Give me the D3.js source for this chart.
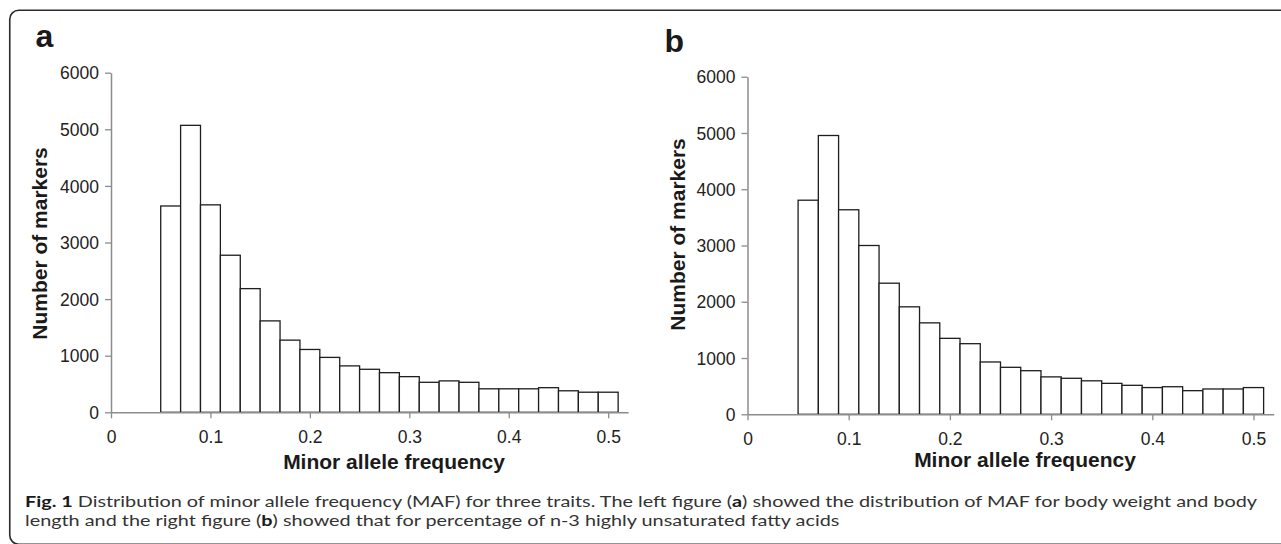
<!DOCTYPE html>
<html>
<head>
<meta charset="utf-8">
<script src="https://cdnjs.cloudflare.com/ajax/libs/d3/7.8.5/d3.min.js"></script>
<style>
body { margin: 0; background: #fff; }
</style>
</head>
<body>
<script>
// classes de MAF (début de chaque classe, largeur 0.02)
var binStart = [0.05, 0.07, 0.09, 0.11, 0.13, 0.15, 0.17, 0.19, 0.21, 0.23, 0.25, 0.27,
                0.29, 0.31, 0.33, 0.35, 0.37, 0.39, 0.41, 0.43, 0.45, 0.47, 0.49];
var binWidth = 0.02;

// nombre de marqueurs par classe
var countsA = [3645, 5070, 3665, 2775, 2185, 1615, 1275, 1110, 970, 820, 760, 700,
               630, 530, 555, 530, 415, 415, 415, 435, 380, 355, 355];
var countsB = [3805, 4955, 3635, 3000, 2330, 1910, 1625, 1350, 1255, 930, 835, 775,
               665, 640, 595, 550, 515, 475, 490, 420, 450, 450, 475];

var xTickValues = [0, 0.1, 0.2, 0.3, 0.4, 0.5];
var xTickLabels = ["0", "0.1", "0.2", "0.3", "0.4", "0.5"];
var yTickValues = [0, 1000, 2000, 3000, 4000, 5000, 6000];
var yTickLabels = ["0", "1000", "2000", "3000", "4000", "5000", "6000"];

var xTitle = "Minor allele frequency";
var yTitle = "Number of markers";

var chartFont = "'Liberation Sans', Arial, Helvetica, sans-serif";
var captionFont = "Lato, 'Open Sans', sans-serif";

var svg = d3.select("body").append("svg").attr("width", 1281).attr("height", 544);

// cadre arrondi autour de la figure
svg.append("rect").attr("x", 9.75).attr("y", 10.25).attr("width", 1320).attr("height", 534)
    .attr("rx", 9).attr("fill", "none").attr("stroke", "#2a2a2a").attr("stroke-width", 1.6);

function dessinerPanel(counts, p) {
    var xMax = 0.52;
    var x = d3.scaleLinear().domain([0, xMax])
        .range([p.x0, p.x0 + xMax * (p.x5 - p.x0) / 0.5]);
    var y = d3.scaleLinear().domain([0, 6000]).range([p.yBottom, p.yTop]);

    // barres de l'histogramme
    svg.append("g").selectAll("rect").data(counts).enter().append("rect")
        .attr("x", function(d, i) { return x(binStart[i]); })
        .attr("width", function(d, i) { return x(binStart[i] + binWidth) - x(binStart[i]); })
        .attr("y", function(d) { return y(d); })
        .attr("height", function(d) { return p.yBottom - y(d); })
        .attr("fill", "#fff").attr("stroke", "#1e1e1e").attr("stroke-width", 1.3);

    var gx = svg.append("g").attr("transform", "translate(0," + p.yBottom + ")")
        .call(d3.axisBottom(x).tickValues(xTickValues)
            .tickFormat(function(d, i) { return xTickLabels[i]; })
            .tickSize(6).tickSizeOuter(0));
    var gy = svg.append("g").attr("transform", "translate(" + p.x0 + ",0)")
        .call(d3.axisLeft(y).tickValues(yTickValues)
            .tickFormat(function(d, i) { return yTickLabels[i]; })
            .tickSize(6).tickSizeOuter(0));

    [gx, gy].forEach(function(g) {
        g.attr("font-family", chartFont).attr("font-size", 17.5);
        g.select(".domain").attr("stroke", "#8c8c8c").attr("stroke-width", 1.5);
        g.selectAll(".tick line").attr("stroke", "#8c8c8c").attr("stroke-width", 1.3);
        g.selectAll(".tick text").attr("fill", "#222");
    });
    gx.selectAll(".tick text").attr("y", 25).attr("dy", "0.35em");
    gy.selectAll(".tick text").attr("x", -12).attr("dy", "0.35em");

    // lettre du panneau
    svg.append("text").attr("x", p.letterX).attr("y", p.letterY).text(p.letter)
        .attr("font-family", chartFont).attr("font-weight", "bold").attr("font-size", 32)
        .attr("fill", "#1a1a1a");

    svg.append("text").attr("x", p.xTitleX).attr("y", p.xTitleY).text(xTitle)
        .attr("text-anchor", "middle").attr("font-family", chartFont)
        .attr("font-weight", "bold").attr("font-size", 21).attr("fill", "#1a1a1a");

    svg.append("text").attr("transform", "translate(" + p.yTitleX + "," + p.yTitleY + ") rotate(-90)")
        .text(yTitle).attr("text-anchor", "middle").attr("font-family", chartFont)
        .attr("font-weight", "bold").attr("font-size", 21).attr("fill", "#1a1a1a");
}

dessinerPanel(countsA, {
    letter: "a", letterX: 35.5, letterY: 47,
    x0: 111, x5: 608.2, yBottom: 412.3, yTop: 72.7,
    xTitleX: 394, xTitleY: 469, yTitleX: 46.5, yTitleY: 243.5
});
dessinerPanel(countsB, {
    letter: "b", letterX: 664.5, letterY: 51.5,
    x0: 747.5, x5: 1253.5, yBottom: 414.3, yTop: 76.7,
    xTitleX: 1025, xTitleY: 467, yTitleX: 685, yTitleY: 234.5
});

// légende de la figure
var line1 = svg.append("text").attr("x", 25).attr("y", 506.5)
    .attr("font-family", captionFont).attr("font-size", 15.8).attr("fill", "#333");
line1.append("tspan").attr("font-weight", "bold").attr("fill", "#1a1a1a").text("Fig. 1");
line1.append("tspan").text(" Distribution of minor allele frequency (MAF) for three traits. The left figure (");
line1.append("tspan").attr("font-weight", "bold").attr("fill", "#1a1a1a").text("a");
line1.append("tspan").text(") showed the distribution of MAF for body weight and body");

var line2 = svg.append("text").attr("x", 25).attr("y", 525.5)
    .attr("font-family", captionFont).attr("font-size", 15.8).attr("fill", "#333");
line2.append("tspan").text("length and the right figure (");
line2.append("tspan").attr("font-weight", "bold").attr("fill", "#1a1a1a").text("b");
line2.append("tspan").text(") showed that for percentage of n-3 highly unsaturated fatty acids");

// la première ligne est justifiée jusqu'au bord droit
var natural = line1.node().getComputedTextLength();
var stretch = (1257 - 25) / natural;
line1.attr("textLength", 1257 - 25).attr("lengthAdjust", "spacingAndGlyphs");
line2.attr("textLength", line2.node().getComputedTextLength() * stretch)
    .attr("lengthAdjust", "spacingAndGlyphs");
</script>
</body>
</html>
